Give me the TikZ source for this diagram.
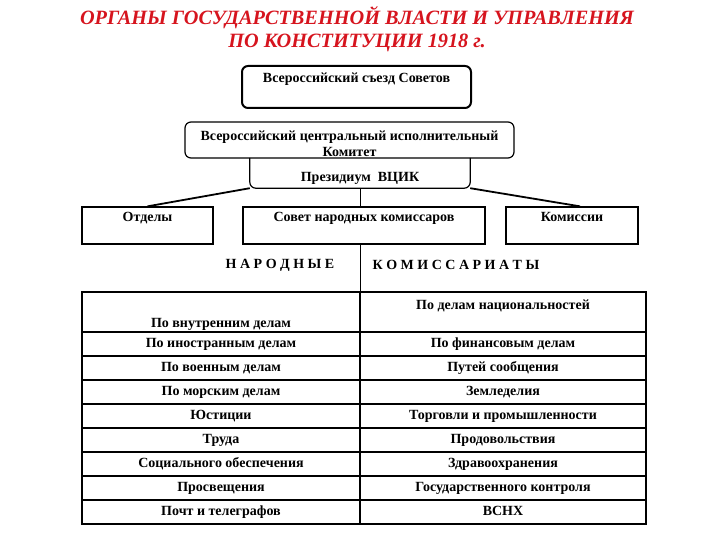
\documentclass[tikz,border=0pt]{standalone}
\usepackage{fontspec}
\setmainfont{Liberation Serif}
\usetikzlibrary{positioning}
\definecolor{titlered}{RGB}{214,20,30}
\newcommand{\boxfont}{\fontsize{14}{16}\selectfont\bfseries}

\begin{document}
\begin{tikzpicture}[x=1pt, y=-1pt,
  organ/.style={draw, rounded corners=6pt, line width=1.2pt, inner sep=0pt,
    font=\boxfont, align=center},
  plainbox/.style={draw, line width=1.3pt, inner sep=0pt, font=\boxfont,
    text height=15pt, text depth=22pt},
  cell/.style={draw, line width=1.6pt, inner sep=0pt, minimum height=24pt,
    text height=10pt, text depth=3.5pt, font=\boxfont},
  lcell/.style={cell, minimum width=278pt},
  rcell/.style={cell, minimum width=286pt},
  link/.style={line width=1.8pt},
  stem/.style={line width=1pt},
  spaced/.style={font=\boxfont},
]
  \useasboundingbox (0,0) rectangle (720,540);

  \node[font=\fontsize{20.3}{23}\selectfont\bfseries\itshape, text=titlered,
    align=center] (title) at (357,29)
    {ОРГАНЫ ГОСУДАРСТВЕННОЙ ВЛАСТИ И УПРАВЛЕНИЯ\\ПО КОНСТИТУЦИИ 1918 г.};

  \node[organ, line width=2pt, minimum width=229pt, text height=17pt,
    text depth=25pt] (congress) at (356.5,87) {Всероссийский съезд Советов};
  \node[organ, minimum width=329pt, text height=35pt, text depth=1pt]
    (vcik) at (349.5,140)
    {Всероссийский центральный исполнительный\\Комитет};
  \node[font=\boxfont, inner sep=0pt, minimum width=220pt, text height=24pt,
    text depth=6pt] (prez) at (360,173) {Президиум\ \ ВЦИК};
  \draw[line width=1.2pt, rounded corners=6pt] (prez.north west)
    -- (prez.south west) -- (prez.south east) -- (prez.north east);

  \node[plainbox, minimum width=131pt] (otdely) at (147.5,225.5) {Отделы};
  \node[plainbox, minimum width=242pt] (sovet) at (364,225.5)
    {Совет народных комиссаров};
  \node[plainbox, minimum width=132pt] (komissii) at (572,225.5) {Комиссии};

  \draw[link] (prez.south west) -- (otdely.north);
  \draw[link] (prez.south east) -- ([xshift=8pt]komissii.north);
  \draw[stem] (prez.south) -- (prez.south |- sovet.north);

  \node[spaced] (narod) at (280,265) {Н А Р О Д Н Ы Е};
  \node[spaced] (komis) at (456,265) {К О М И С С А Р И А Т Ы};

  % table of commissariats
  \node[lcell, minimum height=40pt, text height=35pt, text depth=5pt]
    (l1) at (221,312) {По внутренним делам};
  \node[rcell, minimum height=40pt, text height=17pt, text depth=23pt]
    (r1) at (503,312) {По делам национальностей};
  \node[lcell] (l2) at (221,344) {По иностранным делам};
  \node[rcell] (r2) at (503,344) {По финансовым делам};
  \node[lcell] (l3) at (221,368) {По военным делам};
  \node[rcell] (r3) at (503,368) {Путей сообщения};
  \node[lcell] (l4) at (221,392) {По морским делам};
  \node[rcell] (r4) at (503,392) {Земледелия};
  \node[lcell] (l5) at (221,416) {Юстиции};
  \node[rcell] (r5) at (503,416) {Торговли и промышленности};
  \node[lcell] (l6) at (221,440) {Труда};
  \node[rcell] (r6) at (503,440) {Продовольствия};
  \node[lcell] (l7) at (221,464) {Социального обеспечения};
  \node[rcell] (r7) at (503,464) {Здравоохранения};
  \node[lcell] (l8) at (221,488) {Просвещения};
  \node[rcell] (r8) at (503,488) {Государственного контроля};
  \node[lcell] (l9) at (221,512) {Почт и телеграфов};
  \node[rcell] (r9) at (503,512) {ВСНХ};

  \draw[stem] (sovet.south -| l1.east) -- (l1.north east);
\end{tikzpicture}
\end{document}
